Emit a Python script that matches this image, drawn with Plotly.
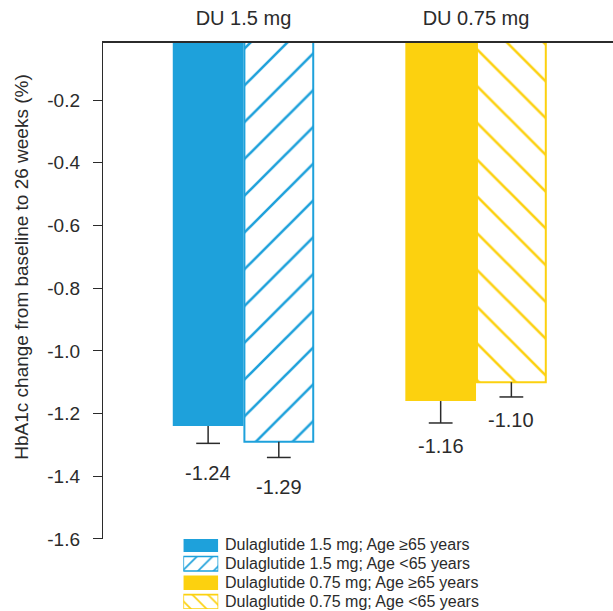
import plotly.graph_objects as go

# ---- data ----
groups = ["DU 1.5 mg", "DU 0.75 mg"]
series_names = [
    "Dulaglutide 1.5 mg; Age ≥65 years",
    "Dulaglutide 1.5 mg; Age <65 years",
    "Dulaglutide 0.75 mg; Age ≥65 years",
    "Dulaglutide 0.75 mg; Age <65 years",
]
values_ge65 = [-1.24, -1.16]
values_lt65 = [-1.29, -1.10]
err_ge65 = [0.055, 0.07]
err_lt65 = [0.05, 0.047]
tick_values = [-0.2, -0.4, -0.6, -0.8, -1.0, -1.2, -1.4, -1.6]
tick_labels = ["-0.2", "-0.4", "-0.6", "-0.8", "-1.0", "-1.2", "-1.4", "-1.6"]
y_title = "HbA1c change from baseline to 26 weeks (%)"

# ---- style ----
FONT = "Arial, Liberation Sans, Helvetica, sans-serif"
BLUE = "#1ea1db"
YELLOW = "#fcd10f"
DARK = "#2b2b2b"
group_colors = [BLUE, YELLOW]
hatch_shapes = ["/", "\\"]
label_shift = [-29.5, -23]   # pixel offset of value labels below error caps, per group
W = 0.304  # bar width in group units

fig = go.Figure()

idx = list(range(len(groups)))
for gi in idx:
    col = group_colors[gi]
    fig.add_trace(go.Bar(
        x=[gi - W / 2], y=[values_ge65[gi]], width=[W],
        marker=dict(color=col, line=dict(width=0)),
        showlegend=False, hoverinfo="skip"))
    fig.add_trace(go.Bar(
        x=[gi + W / 2], y=[values_lt65[gi]], width=[W - 0.008],
        marker=dict(color="white", line=dict(color=col, width=2),
                    pattern=dict(shape=hatch_shapes[gi], fgcolor=col, bgcolor="white",
                                 size=26, solidity=0.1, fillmode="replace")),
        showlegend=False, hoverinfo="skip"))

annotations = []
for gi in idx:
    for xc, v, e in [(gi - W / 2, values_ge65[gi], err_ge65[gi]),
                     (gi + W / 2, values_lt65[gi], err_lt65[gi])]:
        fig.add_trace(go.Scatter(
            x=[xc, xc], y=[v, v - e], mode="lines",
            line=dict(color=DARK, width=1.5), showlegend=False, hoverinfo="skip"))
        fig.add_trace(go.Scatter(
            x=[xc], y=[v - e], mode="markers",
            marker=dict(symbol="line-ew", size=17, line=dict(color=DARK, width=1.5)),
            showlegend=False, hoverinfo="skip"))
        annotations.append(dict(
            x=xc, y=v - e, xref="x", yref="y", text=f"{v:.2f}", showarrow=False,
            yanchor="middle", yshift=label_shift[gi],
            font=dict(family=FONT, size=20, color=DARK)))

# custom legend drawn as inset bars
leg_colors = [BLUE, BLUE, YELLOW, YELLOW]
leg_shapes = ["", "/", "", "\\"]
for ri, name in enumerate(series_names):
    col = leg_colors[ri]
    if leg_shapes[ri]:
        marker = dict(color="white", line=dict(color=col, width=1.6),
                      pattern=dict(shape=leg_shapes[ri], fgcolor=col, bgcolor="white",
                                   size=11, solidity=0.15, fillmode="replace"))
    else:
        marker = dict(color=col, line=dict(width=0))
    fig.add_trace(go.Bar(
        x=[1], y=[ri], orientation="h", width=[0.76], base=[0],
        marker=marker, xaxis="x2", yaxis="y2", showlegend=False, hoverinfo="skip"))
    annotations.append(dict(
        x=0.236, xref="paper", y=ri, yref="y2", text=name, showarrow=False,
        xanchor="left", yanchor="middle", font=dict(family=FONT, size=16, color=DARK)))

annotations.append(dict(
    x=-0.1588, xref="paper", y=0.603, yref="paper", text=y_title, textangle=-90,
    showarrow=False, xanchor="center", yanchor="middle",
    font=dict(family=FONT, size=19, color=DARK)))

fig.update_layout(
    width=613, height=620,
    margin=dict(l=103, r=0, t=43, b=3),
    paper_bgcolor="white", plot_bgcolor="white",
    barmode="overlay",
    font=dict(family=FONT, size=19, color=DARK),
    annotations=annotations,
    xaxis=dict(
        range=[-0.604, 1.589], side="top", tickvals=idx, ticktext=groups,
        showline=True, linecolor=DARK, linewidth=1.5, ticks="", showgrid=False,
        zeroline=False, ticklabelstandoff=8,
        tickfont=dict(family=FONT, size=20, color=DARK), fixedrange=True),
    yaxis=dict(
        domain=[0.1237, 1], range=[-1.6, -0.018], tickvals=tick_values,
        ticktext=tick_labels, ticks="outside", ticklen=9, tickwidth=1.3,
        tickcolor=DARK, showline=True, linecolor=DARK, linewidth=1.3,
        showgrid=False, zeroline=False, ticklabelstandoff=9,
        tickfont=dict(family=FONT, size=19, color=DARK), fixedrange=True),
    xaxis2=dict(domain=[0.1575, 0.226], range=[0, 1], visible=False,
                anchor="y2", fixedrange=True),
    yaxis2=dict(domain=[0, 0.1237], range=[3.379, -0.305], visible=False,
                anchor="x2", fixedrange=True),
)

fig.write_html("out.html",
               config={"displayModeBar": False},
               post_script="document.body.style.margin='0';document.body.style.overflow='hidden';")
